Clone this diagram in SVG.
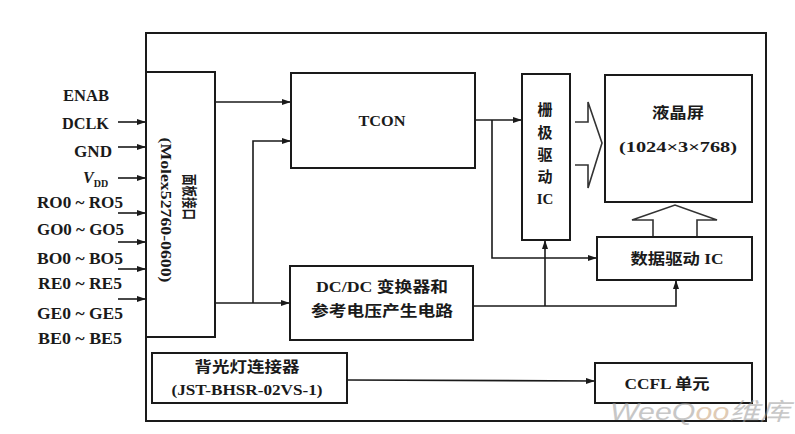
<svg xmlns="http://www.w3.org/2000/svg" width="795" height="434" viewBox="0 0 795 434">
<defs>
<marker id="ah" markerUnits="userSpaceOnUse" markerWidth="9" markerHeight="6" refX="9" refY="3" orient="auto">
<path d="M0,0 L9,3 L0,6 z" fill="#1a1a1a"/>
</marker>
<style>
.box{fill:#fff;stroke:#1a1a1a;stroke-width:2}
.ln{fill:none;stroke:#1a1a1a;stroke-width:1.6}
.ar{fill:none;stroke:#1a1a1a;stroke-width:1.6;marker-end:url(#ah)}
.hol{fill:#fff;stroke:#333;stroke-width:1.6;stroke-linejoin:miter}
.t{font-family:"Liberation Serif","Noto Sans CJK SC",serif;fill:#1a1a1a;font-size:15px;font-weight:bold}
.lab{font-family:"Liberation Serif",serif;fill:#1a1a1a;font-size:16px;font-weight:bold}
.c{text-anchor:middle}
</style>
</defs>
<rect width="795" height="434" fill="#fff"/>

<g id="frame"><rect x="146" y="33" width="620" height="388" fill="none" stroke="#1a1a1a" stroke-width="2"/></g>

<g id="labels">
<text class="lab" x="63" y="101" textLength="46" lengthAdjust="spacingAndGlyphs">ENAB</text>
<text class="lab" x="62" y="129" textLength="47" lengthAdjust="spacingAndGlyphs">DCLK</text>
<text class="lab" x="74" y="157" textLength="38" lengthAdjust="spacingAndGlyphs">GND</text>
<text class="lab" x="83" y="183" font-style="italic" font-weight="normal">V<tspan font-size="10" font-style="normal" dy="4">DD</tspan></text>
<text class="lab" x="37" y="208" textLength="86" lengthAdjust="spacingAndGlyphs">RO0 ~ RO5</text>
<text class="lab" x="37" y="235" textLength="87" lengthAdjust="spacingAndGlyphs">GO0 ~ GO5</text>
<text class="lab" x="37" y="264" textLength="86" lengthAdjust="spacingAndGlyphs">BO0 ~ BO5</text>
<text class="lab" x="38" y="289" textLength="84" lengthAdjust="spacingAndGlyphs">RE0 ~ RE5</text>
<text class="lab" x="37" y="319" textLength="86" lengthAdjust="spacingAndGlyphs">GE0 ~ GE5</text>
<text class="lab" x="38" y="344" textLength="84" lengthAdjust="spacingAndGlyphs">BE0 ~ BE5</text>
</g>

<g id="connectors">
<line class="ar" x1="118" y1="122" x2="146" y2="122"/>
<line class="ar" x1="118" y1="147" x2="146" y2="147"/>
<line class="ar" x1="118" y1="178" x2="146" y2="178"/>
<line class="ar" x1="118" y1="213" x2="146" y2="213"/>
<line class="ar" x1="118" y1="242" x2="146" y2="242"/>
<line class="ar" x1="118" y1="269" x2="146" y2="269"/>
<line class="ar" x1="118" y1="299" x2="146" y2="299"/>
<line class="ar" x1="215" y1="102" x2="291" y2="102"/>
<polyline class="ar" points="253,303 253,141 291,141"/>
<line class="ar" x1="215" y1="303" x2="290" y2="303"/>
<line class="ar" x1="475" y1="120" x2="522" y2="120"/>
<polyline class="ar" points="492,120 492,258 597,258"/>
<polyline class="ar" points="473,306 676,306 676,280"/>
<polyline class="ar" points="545,306 545,240"/>
<line class="ar" x1="347" y1="380" x2="595" y2="381"/>
<polyline class="hol" points="575,122 588,122 588,102 602,143 588,188 588,165 575,165"/>
<polyline class="hol" points="653,237 653,220 632,220 675,205 717,220 697,220 697,237"/>
</g>

<g id="interface">
<rect class="box" x="146" y="72" width="69" height="265"/>
<text class="t c" transform="translate(189,197) rotate(90)" dy="0.35em" textLength="46" lengthAdjust="spacingAndGlyphs" font-size="12">面板接口</text>
<text class="t c" transform="translate(166,210) rotate(90)" dy="0.35em" textLength="145" lengthAdjust="spacingAndGlyphs" font-size="16" font-weight="normal">(Molex52760-0600)</text>
</g>

<g id="tcon">
<rect class="box" x="291" y="73" width="184" height="95"/>
<text class="t c" x="382" y="126" textLength="47" lengthAdjust="spacingAndGlyphs" font-size="16">TCON</text>
</g>

<g id="gate">
<rect class="box" x="522" y="74" width="48" height="166"/>
<text class="t c" x="545" y="115">栅</text>
<text class="t c" x="545" y="138">极</text>
<text class="t c" x="545" y="160">驱</text>
<text class="t c" x="545" y="182">动</text>
<text class="t c" x="545" y="204">IC</text>
</g>

<g id="lcd">
<rect class="box" x="605" y="75" width="147" height="127"/>
<text class="t c" x="678" y="118" textLength="52" lengthAdjust="spacingAndGlyphs" font-size="16">液晶屏</text>
<text class="t c" x="678" y="152" textLength="118" lengthAdjust="spacingAndGlyphs" font-size="15">(1024×3×768)</text>
</g>

<g id="datadrv">
<rect class="box" x="597" y="237" width="155" height="43"/>
<text class="t c" x="677" y="264" textLength="93" lengthAdjust="spacingAndGlyphs" font-size="16">数据驱动 IC</text>
</g>

<g id="dcdc">
<rect class="box" x="290" y="266" width="183" height="74"/>
<text class="t c" x="382" y="292" textLength="132" lengthAdjust="spacingAndGlyphs" font-size="15">DC/DC 变换器和</text>
<text class="t c" x="382" y="316" textLength="142" lengthAdjust="spacingAndGlyphs" font-size="15">参考电压产生电路</text>
</g>

<g id="backlight">
<rect class="box" x="152" y="353" width="195" height="50"/>
<text class="t c" x="247" y="372" textLength="105" lengthAdjust="spacingAndGlyphs" font-size="15">背光灯连接器</text>
<text class="t c" x="247" y="395" textLength="151" lengthAdjust="spacingAndGlyphs" font-size="16">(JST-BHSR-02VS-1)</text>
</g>

<g id="ccfl">
<rect class="box" x="595" y="363" width="157" height="40"/>
<text class="t c" x="667" y="389" textLength="85" lengthAdjust="spacingAndGlyphs" font-size="15">CCFL 单元</text>
</g>

<g id="watermark" opacity="0.55">
<text x="610" y="420" font-family="'Liberation Sans','Noto Sans CJK SC',sans-serif" font-size="24" font-style="italic" fill="#9a9a9a" textLength="180" lengthAdjust="spacingAndGlyphs">WeeQ<tspan fill="#c8a27a">oo</tspan>维库</text>
</g>
</svg>
